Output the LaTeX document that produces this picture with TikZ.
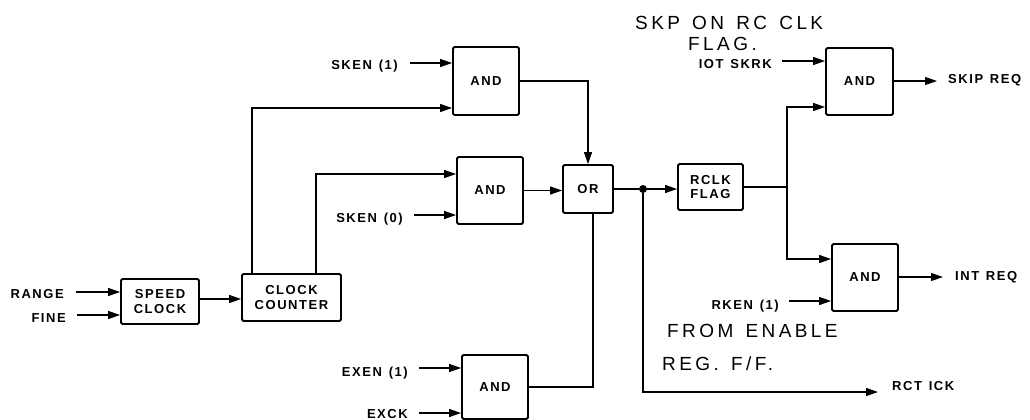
\documentclass[tikz,border=0pt]{standalone}
\usepackage{fontspec}
\usetikzlibrary{arrows.meta}
\newfontfamily\lblfont{Liberation Sans}[LetterSpace=12, WordSpace=1.3]
\newfontfamily\handfont{Liberation Sans}[LetterSpace=18, WordSpace=1.4]
\tikzset{
  box/.style={draw, line width=1.8pt, rounded corners=1.5pt, inner sep=0pt, align=center,
    font=\lblfont\bfseries\fontsize{13}{14.5}\selectfont},
  lbl/.style={inner sep=0pt, font=\lblfont\bfseries\fontsize{13}{14}\selectfont},
  hand/.style={inner sep=0pt, anchor=west, font=\handfont\fontsize{19}{21}\selectfont},
  wire/.style={line width=1.2pt},
  arr/.style={wire, -{Triangle[length=12pt,width=8pt]}},
  junction/.style={circle, fill, inner sep=0pt, minimum size=8pt}
}
\begin{document}
\begin{tikzpicture}[x=1pt,y=-1pt]
\useasboundingbox (0,0) rectangle (1030,420);
% boxes
\node[box, minimum width=78pt, minimum height=45pt] (SC) at (160,301.5) {SPEED\\CLOCK};
\node[box, minimum width=99pt, minimum height=47pt] (CC) at (291.5,297.5) {CLOCK\\COUNTER};
\node[box, minimum width=66pt, minimum height=68pt] (A1) at (486,81) {AND};
\node[box, minimum width=66pt, minimum height=67pt] (A2) at (490,190.5) {AND};
\node[box, minimum width=50pt, minimum height=48pt] (OR) at (588,189) {OR};
\node[box, minimum width=65pt, minimum height=46pt] (RF) at (710.5,187) {RCLK\\FLAG};
\node[box, minimum width=67pt, minimum height=67pt] (A3) at (859.5,81.5) {AND};
\node[box, minimum width=66pt, minimum height=67pt] (A4) at (865,277.5) {AND};
\node[box, minimum width=66pt, minimum height=64pt] (A5) at (495,387) {AND};
% input labels
\node[lbl, anchor=base east] (lRange) at (64,298) {RANGE};
\node[lbl, anchor=base east] (lFine) at (66,322) {FINE};
\node[lbl, anchor=base east] (lSk1) at (398,70) {SKEN (1)};
\node[lbl, anchor=base east] (lSk0) at (403,222) {SKEN (0)};
\node[lbl, anchor=base east] (lEx1) at (408,376) {EXEN (1)};
\node[lbl, anchor=base east] (lExck) at (408,418) {EXCK};
\node[lbl, anchor=base east] (lIot) at (772,68) {IOT SKRK};
\node[lbl, anchor=base east] (lRken) at (779,309) {RKEN (1)};
\node[lbl, anchor=base west] (lSkip) at (948,84) {SKIP REQ};
\node[lbl, anchor=base west] (lInt) at (955,280) {INT REQ};
\node[lbl, anchor=base west] (lRct) at (892,390) {RCT ICK};
% handwritten notes
\node[hand] (h1) at (635,23) {SKP ON RC CLK};
\node[hand] (h2) at (688,44) {FLAG.};
\node[hand] (h3) at (667,331) {FROM ENABLE};
\node[hand] (h4) at (662,364) {REG. F/F.};
% connector ends
\coordinate (iRange) at (76,292);
\coordinate (iFine) at (77,315);
\coordinate (iSk1) at (410,63);
\coordinate (iSk0) at (414,215);
\coordinate (iEx1) at (419,368);
\coordinate (iExck) at (419,413);
\coordinate (iIot) at (782,61);
\coordinate (iRken) at (789,301);
\coordinate (oSkip) at (937,81);
\coordinate (oInt) at (943,277);
\coordinate (oRct) at (878,392);
\coordinate (c1) at (252,108);
\coordinate (c2) at (316,174);
\coordinate (c3) at (593,0);
\coordinate (jx) at (643,0);
\coordinate (br) at (787,0);
\coordinate (t3) at (0,107);
\coordinate (t4) at (0,259);
\coordinate (sy) at (0,299);
% inputs
\draw[arr] (iRange) -- (SC.west |- iRange);
\draw[arr] (iFine) -- (SC.west |- iFine);
\draw[arr] (iSk1) -- (A1.west |- iSk1);
\draw[arr] (iSk0) -- (A2.west |- iSk0);
\draw[arr] (iEx1) -- (A5.west |- iEx1);
\draw[arr] (iExck) -- (A5.west |- iExck);
\draw[arr] (iIot) -- (A3.west |- iIot);
\draw[arr] (iRken) -- (A4.west |- iRken);
% internal
\draw[arr] (SC.east |- sy) -- (CC.west |- sy);
\draw[arr] (CC.north -| c1) |- (A1.west |- c1);
\draw[arr] (CC.north -| c2) |- (A2.west |- c2);
\draw[arr] (A1.east) -| (OR.north);
\draw[arr] (A2.east) -- (OR.west |- A2.east);
\draw[wire] (A5.east) -| (OR.south -| c3);
\node[junction] (J) at (OR.east -| jx) {};
\draw[wire] (OR.east) -- (J);
\draw[arr] (J) -- (RF.west |- J);
\draw[arr] (J) |- (oRct);
\draw[wire] (RF.east) -- (RF.east -| br);
\draw[arr] (RF.east -| br) |- (A3.west |- t3);
\draw[arr] (RF.east -| br) |- (A4.west |- t4);
% outputs
\draw[arr] (A3.east |- oSkip) -- (oSkip);
\draw[arr] (A4.east |- oInt) -- (oInt);
\end{tikzpicture}
\end{document}
